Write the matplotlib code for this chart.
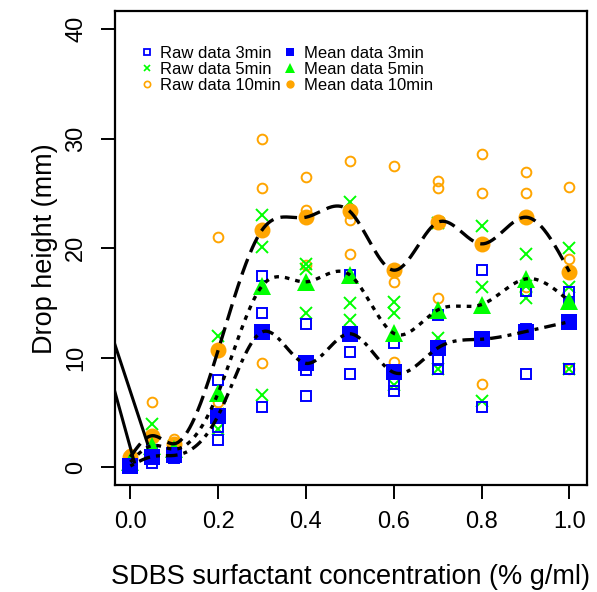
import numpy as np
import matplotlib.pyplot as plt
from matplotlib.lines import Line2D

plt.rcParams['font.family'] = ['Liberation Sans', 'DejaVu Sans']

# SDBS concentration (% g/ml)
conc = [0.0, 0.05, 0.1, 0.2, 0.3, 0.4, 0.5, 0.6, 0.7, 0.8, 0.9, 1.0]

# three replicate drop heights (mm) per concentration
raw_3min = [[0.0, 0.1, 0.3], [1.6, 1.0, 0.4], [1.3, 1.1, 0.9], [8.0, 3.7, 2.5],
            [17.5, 14.1, 5.5], [13.1, 8.9, 6.5], [17.6, 10.5, 8.5], [11.4, 7.6, 7.0],
            [13.9, 9.8, 9.0], [18.0, 11.6, 5.5], [16.1, 12.6, 8.5], [16.0, 14.9, 9.0]]
raw_5min = [[0.6, 0.4, 0.5], [4.0, 1.0, 1.0], [2.0, 1.6, 1.4], [12.0, 4.9, 3.5],
            [23.0, 20.1, 6.6], [18.6, 18.1, 14.1], [24.2, 15.0, 13.5], [15.1, 14.1, 7.5],
            [22.3, 11.8, 9.0], [22.0, 16.5, 6.1], [19.5, 16.6, 15.5], [20.0, 16.5, 9.0]]
raw_10min = [[1.2, 0.9, 0.8], [6.0, 1.5, 1.2], [2.6, 2.0, 1.9], [21.0, 6.0, 5.1],
             [30.0, 25.5, 9.5], [26.5, 23.5, 18.5], [28.0, 22.6, 19.5], [27.5, 16.9, 9.6],
             [26.1, 25.5, 15.5], [28.6, 25.0, 7.6], [27.0, 25.0, 16.5], [25.6, 19.0, 9.0]]

# the two stray solid lines at the left edge
stray_a_x = [-0.04, 0.039]
stray_a_y = [11.8, 2.2]
stray_b_x = [-0.04, 0.009]
stray_b_y = [7.6, 0.5]

BLUE, GREEN, ORANGE = '#0000FF', '#00FF00', '#FFA500'


def natural_spline(x, y, xs):
    x = np.asarray(x, float)
    y = np.asarray(y, float)
    n = len(x)
    h = np.diff(x)
    A = np.zeros((n, n))
    b = np.zeros(n)
    A[0, 0] = A[-1, -1] = 1
    for i in range(1, n - 1):
        A[i, i - 1] = h[i - 1]
        A[i, i] = 2 * (h[i - 1] + h[i])
        A[i, i + 1] = h[i]
        b[i] = 6 * ((y[i + 1] - y[i]) / h[i] - (y[i] - y[i - 1]) / h[i - 1])
    M = np.linalg.solve(A, b)
    k = np.clip(np.searchsorted(x, xs) - 1, 0, n - 2)
    hk = h[k]
    t1 = x[k + 1] - xs
    t0 = xs - x[k]
    return (M[k] * t1 ** 3 / (6 * hk) + M[k + 1] * t0 ** 3 / (6 * hk)
            + (y[k] / hk - M[k] * hk / 6) * t1 + (y[k + 1] / hk - M[k + 1] * hk / 6) * t0)


fig = plt.figure(figsize=(5.97, 5.92), dpi=100)
ax = fig.add_axes([0.1926, 0.1807, 0.7906, 0.7999])

x = np.array(conc)
# raw points
for raw, mk, col, ms in [(raw_10min, 'o', ORANGE, 7), (raw_5min, 'x', GREEN, 8),
                         (raw_3min, 's', BLUE, 7.5)]:
    arr = np.array(raw)
    for j in range(arr.shape[1]):
        ax.plot(x, arr[:, j], linestyle='none', marker=mk, markersize=ms,
                markerfacecolor='none', markeredgecolor=col, markeredgewidth=1.4)

# means
means = {}
for name, raw, mk, col, ms in [('10', raw_10min, 'o', ORANGE, 11.5), ('5', raw_5min, '^', GREEN, 12.5),
                               ('3', raw_3min, 's', BLUE, 11)]:
    m = np.array(raw).mean(axis=1)
    means[name] = m
    ax.plot(x, m, linestyle='none', marker=mk, markersize=ms, color=col, markeredgewidth=0)

# smooth curves through the means
xs = np.linspace(0, 1, 400)
ax.plot(xs, natural_spline(x, means['10'], xs), color='black', lw=2.4, dashes=(5, 2.2))
ax.plot(xs, natural_spline(x, means['5'], xs), color='black', lw=2.4, dashes=(1.4, 1.8))
ax.plot(xs, natural_spline(x, means['3'], xs), color='black', lw=2.4, dashes=(1.2, 1.8, 3.5, 1.8))

ax.plot(stray_a_x, stray_a_y, color='black', lw=2.2)
ax.plot(stray_b_x, stray_b_y, color='black', lw=2.2)

ax.set_xlim(-0.035, 1.04)
ax.set_ylim(-1.6, 41.6)
ax.set_xticks([0.0, 0.2, 0.4, 0.6, 0.8, 1.0])
ax.set_xticklabels(['0.0', '0.2', '0.4', '0.6', '0.8', '1.0'], fontsize=17)
ax.set_yticks([0, 10, 20, 30, 40])
ax.set_yticklabels(['0', '10', '20', '30', '40'], fontsize=17, rotation=90, va='center')
ax.tick_params(length=10, width=1.4, direction='out')
ax.tick_params(axis='x', pad=9)
ax.tick_params(axis='y', pad=10)
for s in ax.spines.values():
    s.set_linewidth(1.6)

ax.set_xlabel('SDBS surfactant concentration (% g/ml)', fontsize=19.5, labelpad=22)
ax.set_ylabel('Drop height (mm)', fontsize=19.5, labelpad=5)

handles = [
    Line2D([], [], linestyle='none', marker='s', markersize=5, markerfacecolor='none',
           markeredgecolor=BLUE, markeredgewidth=1.3),
    Line2D([], [], linestyle='none', marker='x', markersize=5, color=GREEN, markeredgewidth=1.2),
    Line2D([], [], linestyle='none', marker='o', markersize=4.5, markerfacecolor='none',
           markeredgecolor=ORANGE, markeredgewidth=1.2),
    Line2D([], [], linestyle='none', marker='s', markersize=5.5, color=BLUE, markeredgewidth=0),
    Line2D([], [], linestyle='none', marker='^', markersize=6.5, color=GREEN, markeredgewidth=0),
    Line2D([], [], linestyle='none', marker='o', markersize=6, color=ORANGE, markeredgewidth=0),
]
labels = ['Raw data 3min', 'Raw data 5min', 'Raw data 10min',
          'Mean data 3min', 'Mean data 5min', 'Mean data 10min']
ax.legend(handles, labels, ncol=2, frameon=False, fontsize=12, handlelength=0.8,
          handletextpad=0.4, columnspacing=0.15, labelspacing=0.05, borderpad=0,
          loc='upper left', bbox_to_anchor=(0.036, 0.945))

fig.savefig('out.png', dpi=100)
